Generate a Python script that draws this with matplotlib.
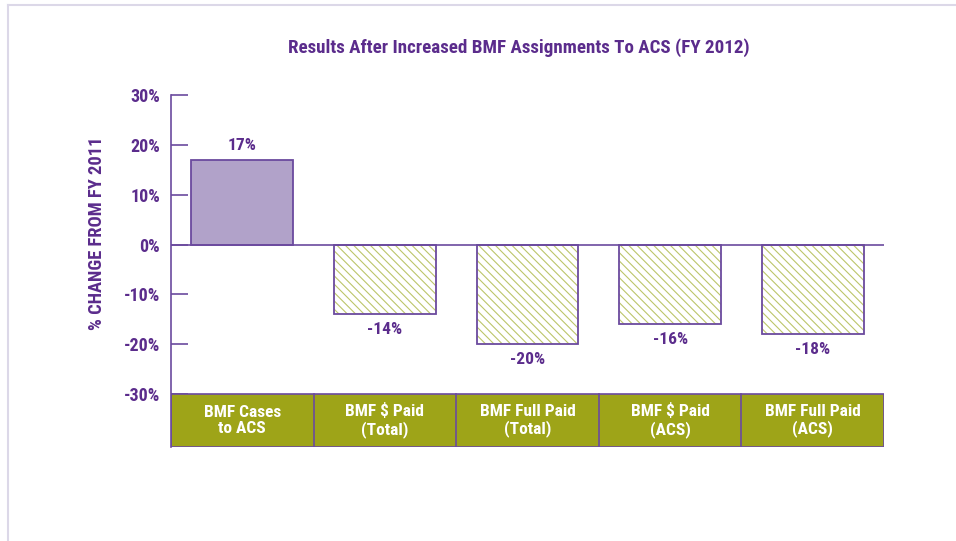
import matplotlib
matplotlib.use("Agg")
import matplotlib.pyplot as plt
from matplotlib.lines import Line2D
from matplotlib.patches import Rectangle
from matplotlib import font_manager

categories = ["BMF Cases\nto ACS", "BMF $ Paid\n(Total)", "BMF Full Paid\n(Total)",
              "BMF $ Paid\n(ACS)", "BMF Full Paid\n(ACS)"]
values = [17, -14, -20, -16, -18]
yticks = [30, 20, 10, 0, -10, -20, -30]
title = "Results After Increased BMF Assignments To ACS (FY 2012)"
ylabel = "% CHANGE FROM FY 2011"

names = {f.name for f in font_manager.fontManager.ttflist}
prefs = ["Roboto Condensed", "Archivo Narrow", "Barlow Condensed", "Asap Condensed"]
fams = [n for n in prefs if n in names] + ["DejaVu Sans"]
plt.rcParams['font.family'] = [fams[0], 'DejaVu Sans']
plt.rcParams['hatch.linewidth'] = 0.8

PURPLE = "#5b2c8c"
EDGE = "#6b4a9e"
LAV = "#b1a2c9"
OLIVE = "#9ea418"
HATCH = "#bcc56a"

fig = plt.figure(figsize=(9.56, 5.41), dpi=100)
W, H = 956, 541
left, right, top, bottom = 171, 884, 95, 447
ax = fig.add_axes([left / W, 1 - bottom / H, (right - left) / W, (bottom - top) / H])

band_lo = -30 - 53 / (299 / 60)
ax.set_ylim(band_lo, 30)
ax.set_xlim(-0.5, len(values) - 0.5)

x = list(range(len(values)))
bw = 0.715
for i, v in zip(x, values):
    if v >= 0:
        ax.bar(i, v, width=bw, color=LAV, edgecolor=EDGE, linewidth=1.3, zorder=3)
    else:
        ax.bar(i, v, width=bw, color="white", edgecolor=HATCH, hatch="\\\\\\\\", linewidth=0, zorder=3)
        ax.bar(i, v, width=bw, color="none", edgecolor=EDGE, linewidth=1.3, zorder=4)
    off = 1.3 if v >= 0 else -1.6
    ax.text(i, v + off, f"{v}%", ha="center", va="bottom" if v >= 0 else "top",
            color=PURPLE, fontsize=12.5, fontweight="bold")

ax.axhline(0, color=EDGE, linewidth=1.2, zorder=5)

# category band
ax.add_patch(Rectangle((-0.5, band_lo), len(values), -30 - band_lo, facecolor=OLIVE,
                       edgecolor=EDGE, linewidth=1.2, zorder=2))
for i in range(1, len(values)):
    ax.plot([i - 0.5, i - 0.5], [band_lo, -30], color=EDGE, linewidth=1.2, zorder=3)
for i, c in zip(x, categories):
    ax.text(i, (band_lo - 30) / 2, c, ha="center", va="center", color="white",
            fontsize=12.5, fontweight="bold", linespacing=1.15, zorder=4)

ax.set_yticks(yticks)
ax.set_yticklabels([f"{t}%" for t in yticks], color=PURPLE, fontsize=13, fontweight="bold")
ax.tick_params(axis="y", direction="in", length=12.5, width=1.2, color=EDGE, pad=8)
ax.set_xticks([])
for s in ["top", "right", "bottom"]:
    ax.spines[s].set_visible(False)
ax.spines["left"].set_color(EDGE)
ax.spines["left"].set_linewidth(1.2)

fig.text(519 / W, 1 - 48 / H, title, ha="center", va="center", color=PURPLE,
         fontsize=13.7, fontweight="bold")
fig.text(97 / W, 1 - 233 / H, ylabel, ha="center", va="center", rotation=90,
         color=PURPLE, fontsize=13.3, fontweight="bold")

# light frame
fig.add_artist(Line2D([8 / W, 1], [1 - 5 / H, 1 - 5 / H], color="#dcd8e8", linewidth=1.5))
fig.add_artist(Line2D([8 / W, 8 / W], [0, 1 - 5 / H], color="#dcd8e8", linewidth=1.5))

fig.savefig("out.png", dpi=100)
